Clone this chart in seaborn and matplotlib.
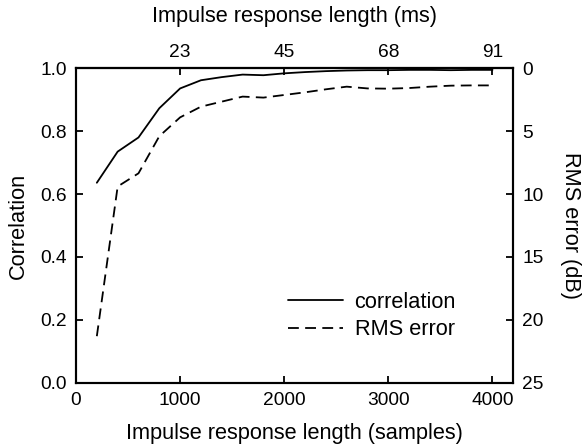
import matplotlib
matplotlib.use("Agg")
import matplotlib.pyplot as plt
import seaborn as sns
import pandas as pd

samples = [200, 400, 600, 800, 1000, 1200, 1400, 1600, 1800, 2000,
           2200, 2400, 2600, 2800, 3000, 3200, 3400, 3600, 3800, 4000]
correlation = [0.636, 0.735, 0.780, 0.873, 0.936, 0.962, 0.972, 0.980, 0.978, 0.984,
               0.988, 0.991, 0.993, 0.994, 0.994, 0.995, 0.995, 0.994, 0.995, 0.995]
rms_error = [21.3, 9.4, 8.35, 5.4, 3.9, 3.05, 2.65, 2.25, 2.33, 2.12,
             1.91, 1.67, 1.46, 1.60, 1.62, 1.57, 1.46, 1.38, 1.36, 1.36]
bottom_ticks = [0, 1000, 2000, 3000, 4000]
top_tick_pos = [1000, 2000, 3000, 4000]
top_tick_labels = ["23", "45", "68", "91"]
left_ticks = [0.0, 0.2, 0.4, 0.6, 0.8, 1.0]
right_ticks = [0, 5, 10, 15, 20, 25]

df = pd.DataFrame({"samples": samples, "correlation": correlation, "rms": rms_error})

sns.set_theme(style="ticks")
plt.rcParams['font.family'] = ['Liberation Sans', 'DejaVu Sans']
plt.rcParams['text.color'] = 'black'
plt.rcParams['axes.labelcolor'] = 'black'
plt.rcParams['xtick.color'] = 'black'
plt.rcParams['ytick.color'] = 'black'

LABEL_FS = 15.7
TICK_FS = 13.8

fig = plt.figure(figsize=(5.82, 4.47), dpi=100)
ax = fig.add_axes([0.1306, 0.1438, 0.882 - 0.1306, 0.8472 - 0.1438])
ax2 = ax.twinx()

sns.lineplot(data=df, x="samples", y="correlation", ax=ax, color="black",
             linewidth=1.3, label="correlation", legend=False)
sns.lineplot(data=df, x="samples", y="rms", ax=ax2, color="black",
             linewidth=1.3, label="RMS error", legend=False)
ax2.lines[0].set_dashes((6, 3.5))

ax.set_xlim(0, 4200)
ax.set_ylim(0, 1.0)
ax2.set_ylim(25, 0)

ax.set_xticks(bottom_ticks)
ax.set_yticks(left_ticks)
ax.set_yticklabels([f"{v:.1f}" for v in left_ticks])
ax2.set_yticks(right_ticks)

top = ax.secondary_xaxis('top')
top.set_xticks(top_tick_pos)
top.set_xticklabels(top_tick_labels)
top.set_xlabel("Impulse response length (ms)", fontsize=LABEL_FS, labelpad=16)
top.tick_params(direction="in", length=5, width=1.3, labelsize=TICK_FS, pad=5, colors="black")
for s in top.spines.values():
    s.set_linewidth(1.5)

ax.set_xlabel("Impulse response length (samples)", fontsize=LABEL_FS, labelpad=9.5)
ax.set_ylabel("Correlation", fontsize=LABEL_FS, labelpad=8)
ax2.set_ylabel("RMS error (dB)", fontsize=LABEL_FS, rotation=270, labelpad=27)

for a in (ax, ax2):
    a.tick_params(direction="in", length=5, width=1.3, labelsize=TICK_FS, pad=6.5, colors="black")
    for s in a.spines.values():
        s.set_visible(True)
        s.set_linewidth(1.5)
        s.set_color("black")
ax.tick_params(axis="x", pad=7)

h1, l1 = ax.get_legend_handles_labels()
h2, l2 = ax2.get_legend_handles_labels()
leg = ax2.legend(h1 + h2, l1 + l2, loc="center left", bbox_to_anchor=(0.485, 0.212),
                 frameon=False, fontsize=LABEL_FS, handlelength=2.5, handletextpad=0.55,
                 labelspacing=0.3, borderpad=0, borderaxespad=0)

fig.savefig("out.png", dpi=100)
